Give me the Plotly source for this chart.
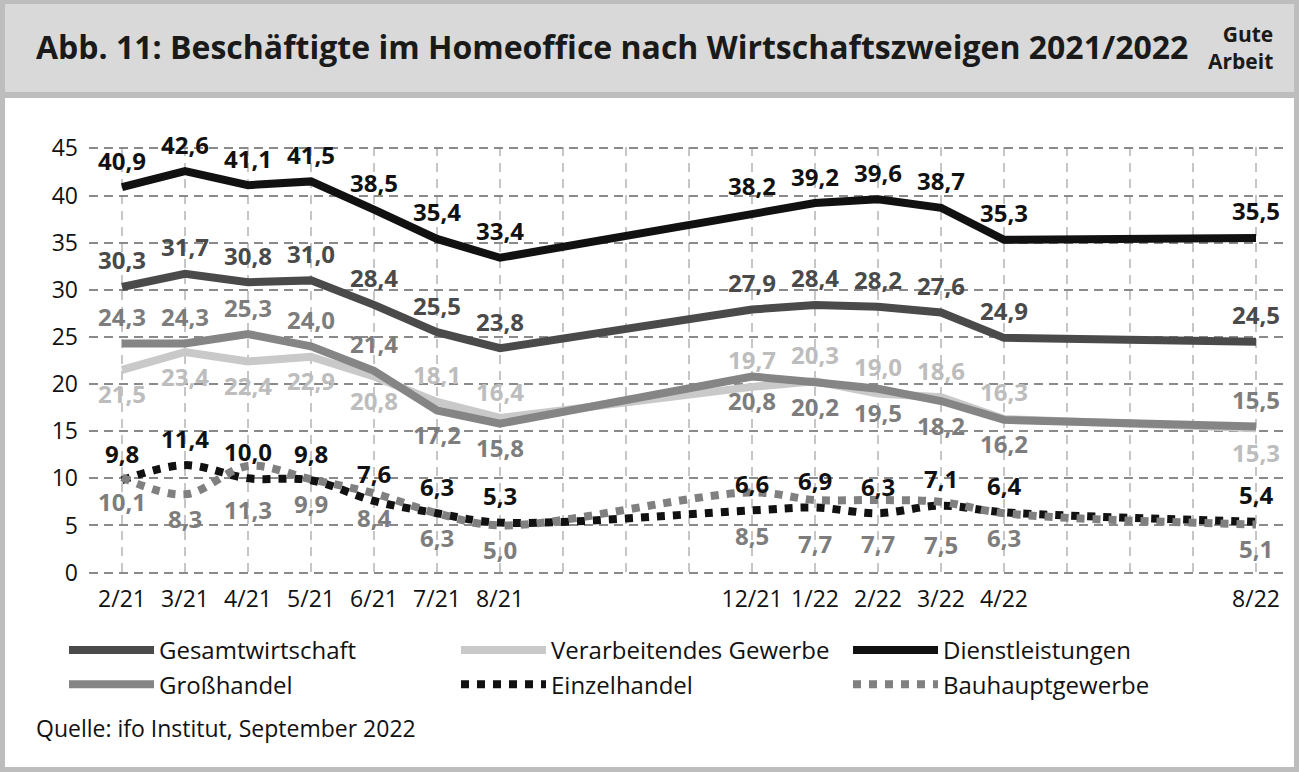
import plotly.graph_objects as go

# alle Monate der x-Achse (jeder Monat bekommt eine Gitterlinie)
monate = ["2/21", "3/21", "4/21", "5/21", "6/21", "7/21", "8/21", "9/21", "10/21",
          "11/21", "12/21", "1/22", "2/22", "3/22", "4/22", "5/22", "6/22", "7/22", "8/22"]
# Erhebungszeitpunkte
erhebungen = ["2/21", "3/21", "4/21", "5/21", "6/21", "7/21", "8/21",
              "12/21", "1/22", "2/22", "3/22", "4/22", "8/22"]

gesamtwirtschaft = [30.3, 31.7, 30.8, 31.0, 28.4, 25.5, 23.8, 27.9, 28.4, 28.2, 27.6, 24.9, 24.5]
verarbeitendes_gewerbe = [21.5, 23.4, 22.4, 22.9, 20.8, 18.1, 16.4, 19.7, 20.3, 19.0, 18.6, 16.3, 15.3]
dienstleistungen = [40.9, 42.6, 41.1, 41.5, 38.5, 35.4, 33.4, 38.2, 39.2, 39.6, 38.7, 35.3, 35.5]
grosshandel = [24.3, 24.3, 25.3, 24.0, 21.4, 17.2, 15.8, 20.8, 20.2, 19.5, 18.2, 16.2, 15.5]
einzelhandel = [9.8, 11.4, 10.0, 9.8, 7.6, 6.3, 5.3, 6.6, 6.9, 6.3, 7.1, 6.4, 5.4]
bauhauptgewerbe = [10.1, 8.3, 11.3, 9.9, 8.4, 6.3, 5.0, 8.5, 7.7, 7.7, 7.5, 6.3, 5.1]

FONT = "Open Sans"
W, H = 1299, 772
L, R, T, B = 89, 14, 147, 198   # Plotbereich in Pixeln


def px_x(x):
    return (x - L) / (W - L - R)


def px_y(y):
    return (H - B - y) / (H - T - B)


xs = [monate.index(m) for m in erhebungen]

# name, werte, linienfarbe, dash, shape, beschriftungsfarbe, lage der Beschriftung
# o = oben, u = unten, U = weit unten
reihen = [
    ("Gesamtwirtschaft", gesamtwirtschaft, "#4a4a4a", "solid", "linear", "#4a4a4a", "ooooooooooooo"),
    ("Verarbeitendes Gewerbe", verarbeitendes_gewerbe, "#c9c9c9", "solid", "linear", "#bdbdbd", "uuuuuooooooou"),
    ("Dienstleistungen", dienstleistungen, "#111111", "solid", "linear", "#111111", "ooooooooooooo"),
    ("Großhandel", grosshandel, "#858585", "solid", "linear", "#7d7d7d", "ooooouuuuuuuo"),
    ("Einzelhandel", einzelhandel, "#111111", "dot", "spline", "#111111", "ooooooooooooo"),
    ("Bauhauptgewerbe", bauhauptgewerbe, "#808080", "dot", "spline", "#7d7d7d", "uuUuuuuUUUUuu"),
]
shift = {"o": 27, "u": -24, "U": -43}

fig = go.Figure()
annos = []
for name, werte, farbe, dash, shape, lfarbe, lage in reihen:
    fig.add_trace(go.Scatter(
        x=xs, y=werte, name=name, mode="lines",
        line=dict(color=farbe, width=8, dash=dash, shape=shape, smoothing=1.0),
        hoverinfo="skip",
    ))
    for x, v, l in zip(xs, werte, lage):
        annos.append(dict(
            x=x, y=v, xref="x", yref="y", text=f"{v:.1f}".replace(".", ","),
            showarrow=False, yshift=shift[l],
            font=dict(family=FONT, size=24, color=lfarbe, weight="bold"),
        ))

# Titel, Logo-Text, Quelle
annos.append(dict(
    x=px_x(34), y=px_y(47), xref="paper", yref="paper", xanchor="left", yanchor="middle",
    text="<b>Abb. 11: Beschäftigte im Homeoffice nach Wirtschaftszweigen 2021/2022</b>",
    showarrow=False, font=dict(family=FONT, size=32, color="#1a1a1a"),
))
annos.append(dict(
    x=px_x(1275), y=px_y(48), xref="paper", yref="paper", xanchor="right", yanchor="middle",
    text="<b>Gute</b><br><b>Arbeit</b>", align="right",
    showarrow=False, font=dict(family=FONT, size=21, color="#1a1a1a"),
))
annos.append(dict(
    x=px_x(34), y=px_y(728), xref="paper", yref="paper", xanchor="left", yanchor="middle",
    text="Quelle: ifo Institut, September 2022",
    showarrow=False, font=dict(family=FONT, size=23, color="#111111"),
))

shapes = [
    dict(type="rect", xref="paper", yref="paper", layer="below",
         x0=px_x(5), x1=px_x(1294), y0=px_y(98), y1=px_y(767),
         fillcolor="white", line=dict(width=0)),
    dict(type="rect", xref="paper", yref="paper", layer="below",
         x0=px_x(5), x1=px_x(1294), y0=px_y(4), y1=px_y(92),
         fillcolor="#d9d9d9", line=dict(width=0)),
]

fig.update_layout(
    width=W, height=H,
    margin=dict(l=L, r=R, t=T, b=B),
    paper_bgcolor="#bdbdbd",
    plot_bgcolor="rgba(0,0,0,0)",
    font=dict(family=FONT, size=23, color="#111111"),
    showlegend=True,
    legend=dict(
        orientation="h", xref="container", yref="container",
        x=64 / W, y=1 - 628 / H, xanchor="left", yanchor="top",
        itemwidth=85, entrywidth=292, entrywidthmode="pixels",
        font=dict(family=FONT, size=24, color="#111111"),
        bgcolor="rgba(0,0,0,0)", tracegroupgap=0,
    ),
    xaxis=dict(
        range=[-0.524, 18.46], tickmode="array",
        tickvals=list(range(len(monate))),
        ticktext=[m if m in erhebungen else "" for m in monate],
        showgrid=True, gridcolor="#c6c6c6", gridwidth=1.5, griddash="9px,7px",
        zeroline=False, showline=False, ticks="", ticklabelstandoff=9,
        tickfont=dict(family=FONT, size=23, color="#111111"),
        fixedrange=True,
    ),
    yaxis=dict(
        range=[-0.15, 45.15], tickmode="array", tickvals=list(range(0, 46, 5)),
        showgrid=True, gridcolor="#8a8a8a", gridwidth=2, griddash="9px,6px",
        zeroline=False, showline=False, ticks="", ticklabelstandoff=10,
        tickfont=dict(family=FONT, size=23, color="#111111"),
        fixedrange=True,
    ),
    annotations=annos,
    shapes=shapes,
)

# Seitenrand des Browsers entfernen, damit die Grafik bei 0,0 beginnt
fig.write_html("out.html", config={"displayModeBar": False},
               post_script="document.body.style.margin='0';")
